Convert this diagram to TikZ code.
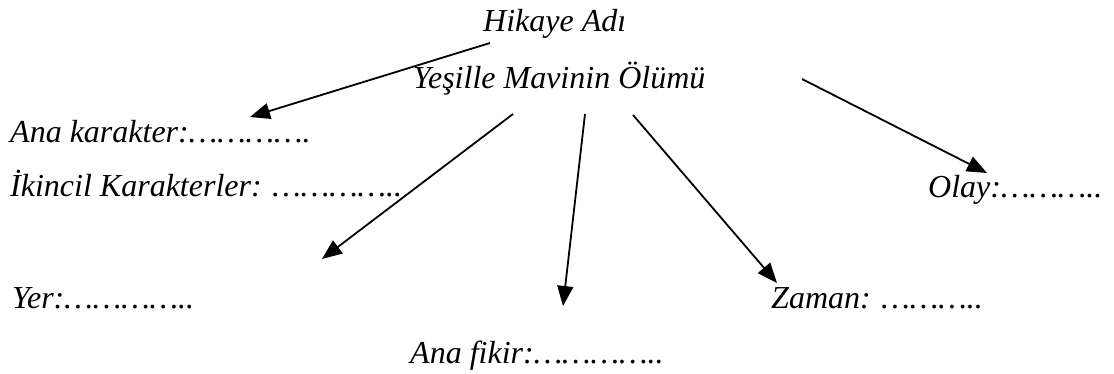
\documentclass[tikz,border=0pt]{standalone}
\usepackage{fontspec}
\setmainfont{Liberation Serif}
\usetikzlibrary{arrows.meta}
\tikzset{
  lbl/.style={anchor=base west, inner sep=0pt, font=\fontsize{32}{38}\selectfont\itshape},
  conn/.style={line width=1.8pt, -{Triangle[length=20pt,width=16pt]}}
}
\begin{document}
\begin{tikzpicture}[x=1pt,y=-1pt]
\useasboundingbox (0,0) rectangle (1114,374);
\node[lbl] (title) at (483,32) {Hikaye Adı};
\node[lbl] (story) at (413,89) {Yeşille Mavinin Ölümü};
\node[lbl] (main) at (10,143) {Ana karakter:………….};
\node[lbl] (second) at (10,197) {İkincil Karakterler: …………..};
\node[lbl] (event) at (928,198) {Olay:………..};
\node[lbl] (place) at (12,308) {Yer:…………..};
\node[lbl] (time) at (771,308) {Zaman: ………..};
\node[lbl] (idea) at (410,363) {Ana fikir:…………..};
\coordinate (s1) at (490,43);  \coordinate (e1) at (250,117);
\coordinate (s2) at (513,114); \coordinate (e2) at (322,259);
\coordinate (s3) at (585,114); \coordinate (e3) at (563,306);
\coordinate (s4) at (633,115); \coordinate (e4) at (777,283);
\coordinate (s5) at (802,79);  \coordinate (e5) at (987,173);
\draw[conn] (s1) -- (e1);
\draw[conn] (s2) -- (e2);
\draw[conn] (s3) -- (e3);
\draw[conn] (s4) -- (e4);
\draw[conn] (s5) -- (e5);
\end{tikzpicture}
\end{document}
